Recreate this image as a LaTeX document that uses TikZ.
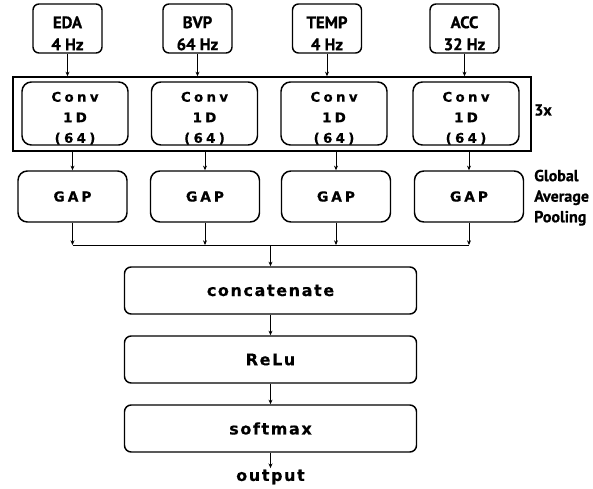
\documentclass[tikz,border=0pt]{standalone}
\usepackage{fontspec}
\setmainfont{Liberation Sans}
\newfontfamily\labelfont{PT Sans}[BoldFeatures={FakeBold=0.8}]
\newfontfamily\convfont{DejaVu Sans}[LetterSpace=25, BoldFeatures={FakeBold=0.5}]
\newfontfamily\gapfont{DejaVu Sans}[LetterSpace=22, BoldFeatures={FakeBold=0.5}]
\newfontfamily\headfont{DejaVu Sans}[LetterSpace=10, BoldFeatures={FakeBold=0.5}]
\usepackage{tikz}
\usetikzlibrary{calc, positioning, arrows.meta}

\tikzset{
    sensor/.style={draw, line width=1.1pt, rounded corners=4.5pt, inner sep=0pt,
        minimum width=51.75pt, minimum height=36.75pt},
    sensortext/.style={inner sep=0pt, align=center, yshift=-3.6pt,
        font=\labelfont\fontsize{12.5}{16.5}\selectfont\bfseries},
    convbox/.style={draw, line width=1.1pt, rounded corners=7pt, inner sep=0pt,
        minimum width=79.5pt, minimum height=47.25pt,
        label={[inner sep=0pt, align=center, yshift=-3.5pt,
            font=\convfont\fontsize{10}{15.4}\selectfont\bfseries]center:Conv\\1D\\(64)}},
    gapbox/.style={draw, line width=1.1pt, rounded corners=7pt, inner sep=0pt,
        minimum width=81.75pt, minimum height=38.25pt,
        font=\gapfont\fontsize{10.3}{12}\selectfont\bfseries},
    headbox/.style={draw, line width=1.1pt, rounded corners=5pt, inner sep=0pt,
        minimum width=219pt, minimum height=35.25pt,
        font=\headfont\fontsize{12}{14}\selectfont\bfseries},
    arr/.style={line width=0.7pt, -{Stealth[length=3.5pt,width=3pt]}},
    note/.style={inner sep=0pt, align=left, font=\labelfont\fontsize{12}{15.4}\selectfont\bfseries}
}

\begin{document}
\begin{tikzpicture}[x=0.75pt, y=-0.75pt]
    \useasboundingbox (0,0) rectangle (593,489);

    % input signals
    \node[sensor, label={[sensortext]center:EDA\\4 Hz}]   (eda)  at (67.5,28.5) {};
    \node[sensor, label={[sensortext]center:BVP\\64 Hz}]  (bvp)  at (197.5,28.5) {};
    \node[sensor, label={[sensortext]center:TEMP\\4 Hz}]  (temp) at (327,28.5) {};
    \node[sensor, label={[sensortext]center:ACC\\32 Hz}]  (acc)  at (464.5,28.5) {};

    % conv blocks, repeated 3x
    \node[draw, line width=1.1pt, inner sep=0pt, minimum width=388.5pt, minimum height=55.5pt] (frame) at (272,114) {};
    \node[convbox] (convEda)  at (75,113.5) {};
    \node[convbox] (convBvp)  at (204.5,113.5) {};
    \node[convbox] (convTemp) at (334,113.5) {};
    \node[convbox] (convAcc)  at (466,113.5) {};
    \node[note, anchor=west] (times) at (534,110) {3x};

    % global average pooling
    \node[gapbox] (gapEda)  at (72.5,196.5) {GAP};
    \node[gapbox] (gapBvp)  at (205,196.5) {GAP};
    \node[gapbox] (gapTemp) at (336,196.5) {GAP};
    \node[gapbox] (gapAcc)  at (469,196.5) {GAP};
    \node[note, anchor=north west] (gapNote) at (534,169.5) {Global\\Average\\Pooling};

    % head
    \coordinate (bus) at (270.5,245);
    \node[headbox] (concat)  at (270.5,290.5) {concatenate};
    \node[headbox] (relu)    at (270.5,359.5) {ReLu};
    \node[headbox] (softmax) at (270.5,428.5) {softmax};
    \node[inner sep=1pt, font=\headfont\fontsize{12}{14}\selectfont\bfseries] (output) at (270.5,477) {output};

    % connections
    \foreach \s/\g in {eda/gapEda, bvp/gapBvp, temp/gapTemp, acc/gapAcc} {
        \draw[arr] (\s.south) -- (\s.south |- frame.north);
        \draw[arr] (\g.north |- frame.south) -- (\g.north);
        \draw[arr] (\g.south) -- (\g.south |- bus);
    }
    \draw[line width=0.7pt] (gapEda.south |- bus) -- (gapAcc.south |- bus);
    \draw[arr] (bus) -- (concat.north);
    \draw[arr] (concat) -- (relu);
    \draw[arr] (relu) -- (softmax);
    \draw[arr] (softmax) -- (output);
\end{tikzpicture}
\end{document}
